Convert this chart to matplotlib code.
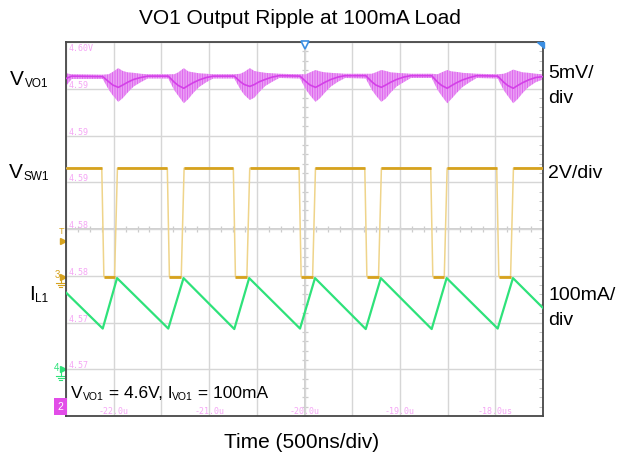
import matplotlib.pyplot as plt
from matplotlib.patches import Polygon

plt.rcParams['font.family'] = ['Liberation Sans', 'DejaVu Sans']
plt.rcParams['hatch.linewidth'] = 0.8

# scope screen: time in us (500ns/div), vertical in divisions 0..8
sw_fall = [-22.115, -21.428, -20.736, -20.047, -19.358, -18.667, -17.975]
sw_rise = [-21.976, -21.277, -20.589, -19.900, -19.209, -18.520, -17.825]
sw_high = 5.30
sw_low = 2.98

il_t = [-22.500, -22.115, -21.965, -21.428, -21.268, -20.736, -20.580, -20.047,
        -19.890, -19.358, -19.200, -18.667, -18.510, -17.975, -17.815, -17.500]
il_v = [2.64, 1.87, 2.95, 1.87, 2.95, 1.86, 2.95, 1.87,
        2.95, 1.86, 2.95, 1.86, 2.95, 1.87, 2.95, 2.31]

vo_t = [-22.500, -22.440,
        -22.115, -22.052, -22.010, -21.952, -21.905, -21.853, -21.790, -21.717, -21.643,
        -21.428, -21.365, -21.323, -21.265, -21.218, -21.166, -21.103, -21.030, -20.956,
        -20.736, -20.673, -20.631, -20.573, -20.526, -20.474, -20.411, -20.338, -20.264,
        -20.047, -19.984, -19.942, -19.884, -19.837, -19.785, -19.722, -19.649, -19.575,
        -19.358, -19.295, -19.253, -19.195, -19.148, -19.096, -19.033, -18.960, -18.886,
        -18.667, -18.604, -18.562, -18.504, -18.457, -18.405, -18.342, -18.269, -18.195,
        -17.975, -17.912, -17.870, -17.812, -17.765, -17.713, -17.650, -17.577, -17.500]
vo_hi = [7.33, 7.31,
         7.30, 7.31, 7.36, 7.44, 7.38, 7.35, 7.34, 7.32, 7.31,
         7.31, 7.31, 7.35, 7.44, 7.37, 7.35, 7.33, 7.32, 7.31,
         7.31, 7.32, 7.36, 7.44, 7.38, 7.36, 7.34, 7.33, 7.32,
         7.31, 7.31, 7.35, 7.40, 7.37, 7.35, 7.34, 7.33, 7.32,
         7.32, 7.32, 7.35, 7.40, 7.38, 7.35, 7.34, 7.33, 7.32,
         7.32, 7.31, 7.35, 7.40, 7.37, 7.36, 7.34, 7.33, 7.32,
         7.31, 7.32, 7.35, 7.41, 7.38, 7.35, 7.34, 7.32, 7.31]
vo_lo = [7.06, 7.21,
         7.21, 6.98, 6.86, 6.72, 6.80, 6.92, 7.05, 7.14, 7.22,
         7.22, 6.97, 6.85, 6.69, 6.78, 6.91, 7.04, 7.14, 7.22,
         7.22, 6.99, 6.87, 6.76, 6.81, 6.93, 7.06, 7.15, 7.23,
         7.22, 6.98, 6.86, 6.72, 6.80, 6.92, 7.05, 7.15, 7.23,
         7.22, 6.98, 6.86, 6.72, 6.79, 6.92, 7.05, 7.14, 7.23,
         7.23, 6.97, 6.85, 6.69, 6.79, 6.91, 7.04, 7.14, 7.23,
         7.22, 6.97, 6.85, 6.69, 6.78, 6.91, 7.04, 7.14, 7.20]
vo_mid = [7.22, 7.27,
          7.26, 7.15, 7.08, 7.03, 7.08, 7.14, 7.20, 7.24, 7.27,
          7.27, 7.14, 7.07, 7.01, 7.07, 7.13, 7.19, 7.24, 7.27,
          7.27, 7.15, 7.09, 7.05, 7.09, 7.15, 7.20, 7.25, 7.28,
          7.27, 7.15, 7.08, 7.03, 7.08, 7.14, 7.20, 7.25, 7.28,
          7.28, 7.15, 7.08, 7.03, 7.08, 7.14, 7.20, 7.25, 7.28,
          7.28, 7.14, 7.07, 7.01, 7.07, 7.13, 7.19, 7.24, 7.28,
          7.27, 7.14, 7.07, 7.01, 7.07, 7.13, 7.19, 7.24, 7.26]

scale_labels = ['4.60V', '4.59', '4.59', '4.59', '4.58', '4.58', '4.57', '4.57']
time_ticks = [-22.0, -21.0, -20.0, -19.0, -18.0]
time_labels = ['-22.0u', '-21.0u', '-20.0u', '-19.0u', '-18.0us']

GOLD = '#d6a21e'
GOLD_EDGE = '#efd48a'
GREEN = '#2ee27a'
MAG = '#d440e8'
PINK = '#f5a6f5'
BLUE = '#3b8fe3'

fig = plt.figure(figsize=(6.23, 4.63), dpi=100)
ax = fig.add_axes([66 / 623, 47 / 463, 477 / 623, 374 / 463])
ax.set_xlim(-22.5, -17.5)
ax.set_ylim(0, 8)

# graticule
ax.set_xticks([-22.5 + 0.5 * i for i in range(11)])
ax.set_yticks(range(9))
ax.grid(True, color='#d6d6d6', lw=1.0, zorder=0)
ax.tick_params(which='both', length=0, labelbottom=False, labelleft=False)
ax.set_yticks([i * 0.2 for i in range(41)], minor=True)
ax.tick_params(which='minor', right=True, left=False, direction='in',
               length=3, color='#bdbdbd')
ax.axvline(-20.0, color='#d0d0d0', lw=1.4, zorder=0)
ax.axhline(4.0, color='#d0d0d0', lw=1.4, zorder=0)
ax.plot([-22.5 + 0.125 * i for i in range(41)], [4.0] * 41, ls='none',
        marker='|', ms=5, mew=0.9, color='#cccccc', zorder=0)
ax.plot([-20.0] * 41, [0.2 * i for i in range(41)], ls='none',
        marker='_', ms=5, mew=0.9, color='#cccccc', zorder=0)
for sp in ax.spines.values():
    sp.set_color('#474747')
    sp.set_linewidth(1.3)

# channel scale readouts
for i, lab in enumerate(scale_labels):
    yy = 8 - i - (0.13 if i == 0 else -0.07)
    ax.text(-22.47, yy, lab, color=PINK, fontsize=6, family='DejaVu Sans Mono',
            va='center', ha='left', zorder=1)
for t, lab in zip(time_ticks, time_labels):
    ax.text(t, 0.09, lab, color=PINK, fontsize=6, family='DejaVu Sans Mono',
            va='center', ha='center', zorder=1)

# SW node
sw_t, sw_v = [-22.5], [sw_high]
for f, r in zip(sw_fall, sw_rise):
    sw_t += [f - 0.01, f + 0.012, r - 0.015, r + 0.015]
    sw_v += [sw_high, sw_low, sw_low, sw_high]
sw_t.append(-17.5)
sw_v.append(sw_high)
ax.plot(sw_t, sw_v, color=GOLD_EDGE, lw=1.1, zorder=3)
hi_start = [-22.5] + [r + 0.015 for r in sw_rise]
hi_end = [f - 0.01 for f in sw_fall] + [-17.5]
ax.hlines([sw_high] * len(hi_start), hi_start, hi_end, color=GOLD, lw=2.0, zorder=4)
ax.hlines([sw_low] * len(sw_fall), [f + 0.012 for f in sw_fall],
          [r - 0.015 for r in sw_rise], color=GOLD, lw=2.0, zorder=4)

# inductor current
ax.plot(il_t, il_v, color=GREEN, lw=1.6, zorder=5)

# output ripple
ax.fill_between(vo_t, vo_lo, vo_hi, facecolor='#f4c8f9', edgecolor='#de6aef',
                hatch='|' * 10, linewidth=0, zorder=2)
ax.plot(vo_t, vo_mid, color=MAG, lw=1.2, zorder=3)

# left side channel markers
ytr = ax.get_yaxis_transform()
ax.text(-0.010, 3.95, 'T', color=GOLD, fontsize=6.5, ha='center', va='center',
        transform=ytr, clip_on=False)
ax.plot([-0.007], [3.74], marker='>', ms=4, color=GOLD, transform=ytr, clip_on=False)
for lab, yy, col in [('3', sw_low, GOLD), ('4', 1.0, GREEN)]:
    ax.text(-0.019, yy + 0.03, lab, color=col, fontsize=7, ha='center', va='center',
            transform=ytr, clip_on=False)
    ax.plot([-0.006], [yy], marker='>', ms=4, color=col, transform=ytr, clip_on=False)
    ax.plot([-0.011, -0.011], [yy, yy - 0.14], color=col, lw=0.8,
            transform=ytr, clip_on=False)
    for k, w in enumerate([0.009, 0.006, 0.003]):
        ax.plot([-0.011 - w, -0.011 + w], [yy - 0.14 - 0.04 * k] * 2, color=col,
                lw=0.8, transform=ytr, clip_on=False)
ax.text(-0.011, 0.2, '2', color='white', fontsize=7.5, ha='center', va='center',
        transform=ytr, clip_on=False,
        bbox=dict(boxstyle='square,pad=0.35', fc='#e24de8', ec='none'))
ax.plot([-20.0], [7.94], marker='v', ms=6, mfc='white', mec=BLUE, mew=1.2,
        clip_on=False, zorder=6)
ax.add_patch(Polygon([(0.987, 1.0), (1.003, 1.0), (1.003, 0.983)], closed=True,
                     color=BLUE, transform=ax.transAxes, clip_on=False, zorder=6))


def chain(x, y, parts, size, subsize, drop=-0.6, gap=0.0):
    # alternating main / subscript pieces, chained left to right
    first = fig.text(x, y, parts[0], fontsize=size, va='baseline', ha='left')
    last = first
    for i, p in enumerate(parts[1:]):
        is_sub = (i % 2 == 0)
        last = fig.add_artist(plt.Annotation(
            p, xy=(1, 0), xycoords=(last, first),
            xytext=(gap if is_sub else 0, drop if is_sub else 0),
            textcoords='offset points',
            va='bottom', ha='left', fontsize=subsize if is_sub else size))
    return first


chain(10 / 623, 1 - 85 / 463, ['V', 'VO1'], 15, 8.5, drop=-1.0, gap=0.8)
chain(9 / 623, 1 - 178 / 463, ['V', 'SW1'], 15, 8.5, drop=-1.0, gap=0.8)
chain(29 / 623, 1 - 300 / 463, ['I', 'L1'], 15, 8.5, drop=-1.0, gap=0.5)
chain(71 / 623, 1 - 398 / 463, ['V', 'VO1', ' = 4.6V, I', 'VO1', ' = 100mA'], 12.5, 7.5)

fig.text(548 / 623, 1 - 78 / 463, '5mV/', fontsize=14, va='baseline')
fig.text(548 / 623, 1 - 103 / 463, 'div', fontsize=14, va='baseline')
fig.text(548 / 623, 1 - 178 / 463, '2V/div', fontsize=14, va='baseline')
fig.text(548 / 623, 1 - 300 / 463, '100mA/', fontsize=14, va='baseline')
fig.text(548 / 623, 1 - 325 / 463, 'div', fontsize=14, va='baseline')

fig.text(299.5 / 623, 1 - 18.5 / 463, 'VO1 Output Ripple at 100mA Load', fontsize=15,
         ha='center', va='center')
fig.text(302 / 623, 1 - 442 / 463, 'Time (500ns/div)', fontsize=15,
         ha='center', va='center')

fig.savefig('out.png', dpi=100)
